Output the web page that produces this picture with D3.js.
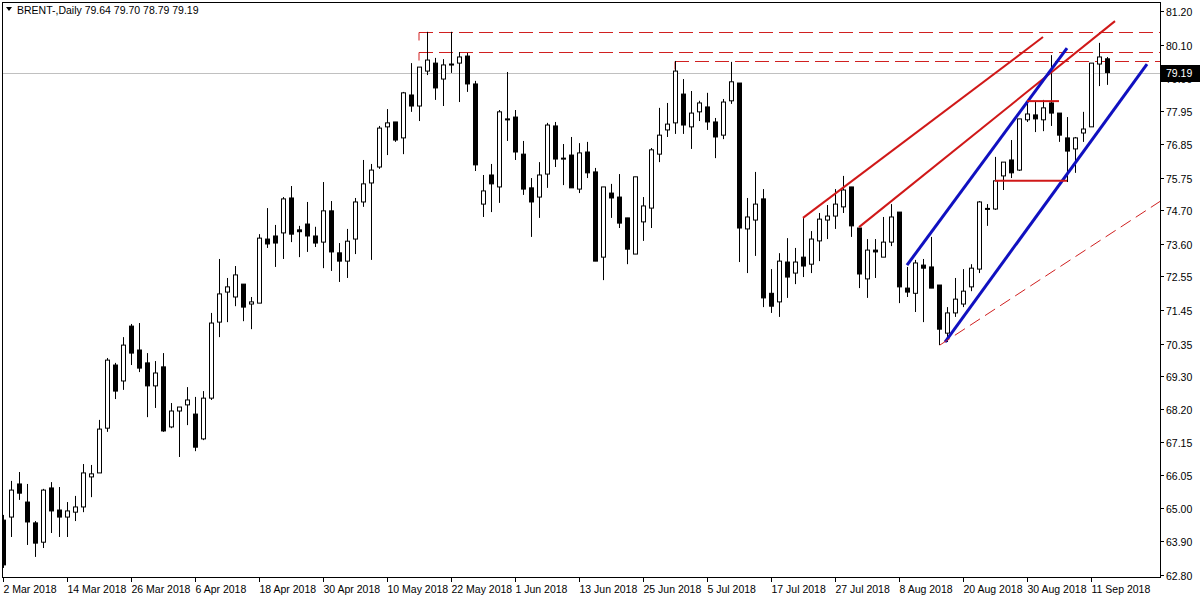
<!DOCTYPE html>
<html>
<head>
<meta charset="utf-8">
<script src="https://cdn.jsdelivr.net/npm/d3@7"></script>
<style>
  body { margin: 0; background: #fff; }
  text { font-family: "Liberation Sans", Arial, sans-serif; font-size: 10.5px; fill: #000; }
</style>
</head>
<body>
<div id="chart"></div>
<script>
// Daily BRENT candles, 2 Mar 2018 .. 13 Sep 2018
var opens = [64.59,64.69,65.77,65.18,64.50,63.87,65.64,64.92,64.69,64.85,65.02,66.00,66.13,67.59,69.65,69.13,70.92,70.14,69.72,68.97,
  69.59,67.63,68.15,68.35,68.05,67.24,68.57,71.05,72.03,71.87,72.29,71.64,71.67,73.76,73.86,73.96,75.10,74.06,74.25,73.86,
  73.66,74.68,73.31,73.04,73.76,74.97,75.59,76.11,77.42,77.58,77.06,78.46,78.10,79.24,79.50,78.98,79.47,79.50,79.73,78.82,
  74.90,75.85,75.46,77.68,77.74,76.53,75.43,75.13,75.88,77.45,76.37,76.50,75.39,76.60,75.95,73.17,75.26,75.13,74.45,73.27,
  74.32,74.77,76.53,77.32,77.55,78.49,77.42,77.91,78.07,77.58,77.15,78.27,78.85,74.09,74.38,75.07,71.99,71.71,73.01,72.65,
  73.17,72.94,73.70,74.38,74.51,74.81,75.46,74.12,72.46,73.40,73.17,73.66,74.64,72.16,71.99,72.91,72.85,72.26,70.69,71.35,
  71.64,72.20,72.78,74.76,74.74,75.82,76.34,76.01,77.65,77.81,77.65,78.20,77.87,77.06,76.70,77.22,77.42,79.47,79.64];
var highs = [64.76,65.87,66.16,65.77,64.56,65.61,65.83,65.67,65.18,65.38,66.42,66.39,67.86,69.88,69.72,70.56,70.99,71.02,70.04,69.78,
  70.04,68.41,68.28,68.93,68.61,68.80,71.35,73.11,72.49,72.88,72.29,71.87,73.92,74.77,74.22,75.13,75.49,74.19,74.97,74.16,
  75.62,75.00,73.63,74.09,75.10,76.34,76.21,77.45,78.00,77.58,78.56,79.50,79.37,80.52,79.67,79.63,80.52,79.86,79.83,78.92,
  75.85,76.21,77.97,79.21,77.97,76.96,75.75,76.27,77.55,77.58,76.86,77.09,76.89,76.93,76.08,75.46,75.56,75.88,74.45,75.79,
  75.13,76.73,78.04,78.20,79.57,78.98,78.59,78.27,78.53,77.71,78.33,79.54,78.85,75.10,75.95,75.39,72.78,73.30,73.79,73.47,
  74.45,74.02,74.61,74.87,75.39,75.82,75.46,74.12,73.76,73.76,74.48,74.90,74.64,72.85,73.08,73.11,73.83,72.26,71.54,72.49,
  72.78,72.94,75.00,74.90,76.44,76.27,76.99,77.68,78.20,78.23,78.30,79.76,77.87,77.74,77.09,77.91,79.50,80.16,79.70];
var lows = [63.03,64.04,65.25,63.78,63.39,63.68,64.17,64.04,64.04,64.56,64.85,65.34,66.13,67.47,68.54,68.84,69.65,69.42,67.95,68.25,
  67.47,67.59,66.65,67.69,66.84,67.20,68.51,70.56,71.05,71.57,71.08,70.82,71.67,73.47,72.85,73.11,73.66,73.17,73.34,73.50,
  72.81,72.72,72.36,72.49,73.27,74.81,73.08,76.05,76.50,76.93,76.53,77.91,77.61,79.11,78.30,78.10,79.18,78.23,78.56,75.98,
  74.48,74.64,74.94,76.96,76.34,75.20,73.83,74.45,75.43,76.11,75.52,75.43,75.26,75.75,73.04,72.42,74.45,74.12,72.94,73.27,
  73.70,74.12,76.27,77.09,77.19,77.19,76.70,77.61,77.32,76.40,77.02,78.17,73.01,72.65,73.21,71.54,71.35,71.22,71.84,72.29,
  72.52,72.65,73.04,73.76,74.09,74.61,73.83,72.16,71.84,72.49,73.17,73.53,71.67,71.87,71.38,71.05,72.16,70.30,70.40,71.22,
  71.54,72.06,72.65,74.19,74.71,75.36,75.75,75.98,77.58,77.25,77.28,77.45,76.93,75.62,75.92,76.93,77.42,78.75,78.79];
var closes = [63.13,65.57,65.47,64.53,63.84,65.57,64.89,64.69,64.89,65.02,66.13,66.10,67.56,69.81,68.80,70.30,70.04,69.55,68.97,69.39,
  67.50,68.15,68.28,68.51,66.97,68.57,71.02,71.97,72.20,72.59,71.54,71.71,73.79,73.60,73.63,75.07,73.92,74.00,73.86,73.63,
  74.68,73.34,73.04,73.69,74.97,75.56,76.01,77.38,77.55,76.99,78.53,78.10,79.37,79.60,78.69,79.44,79.44,79.70,78.82,76.18,
  75.33,75.56,77.91,77.67,76.60,75.39,74.97,75.85,77.48,76.37,76.40,75.43,76.57,75.92,73.04,75.46,75.10,74.28,73.43,75.79,
  74.84,76.67,77.15,77.51,79.24,77.48,77.87,78.20,77.58,77.09,78.23,78.89,74.12,74.48,74.90,71.84,71.57,73.04,72.52,73.01,
  72.88,73.76,74.41,74.51,74.90,75.36,74.19,72.62,73.40,73.34,73.66,74.48,72.20,72.03,72.98,72.81,72.16,70.82,71.35,71.80,
  72.06,72.81,74.97,74.74,75.66,76.27,75.92,77.68,77.84,77.68,78.04,77.87,77.15,76.63,77.06,77.35,79.50,79.70,79.19];

var lastPrice = 79.19;
var priceTicks = [81.20,80.10,79.00,77.95,76.85,75.75,74.70,73.60,72.55,71.45,70.35,69.30,68.20,67.15,66.05,65.00,63.90,62.80];
var dateLabels = ["2 Mar 2018","14 Mar 2018","26 Mar 2018","6 Apr 2018","18 Apr 2018","30 Apr 2018","10 May 2018","22 May 2018",
  "1 Jun 2018","13 Jun 2018","25 Jun 2018","5 Jul 2018","17 Jul 2018","27 Jul 2018","8 Aug 2018","20 Aug 2018","30 Aug 2018","11 Sep 2018"];
var dateBars = [0,8,16,24,32,40,48,56,64,72,80,88,96,104,112,120,128,136];

// Drawn studies: [bar1, price1, bar2, price2]
var dashedLevels = [[52, 80.50], [52, 79.86], [84, 79.57]];
var redTrends = [[100, 74.45, 130, 80.35], [107, 74.15, 139, 80.87]];
var blueTrends = [[113, 72.91, 133, 79.99], [117.75, 70.40, 143, 79.47]];
var redFlats = [[124, 75.66, 133, 75.66], [128, 78.26, 132, 78.26]];
var thinDashed = [[117.1, 70.30, 147.75, 75.52]];

var svgWidth = 1200, svgHeight = 600;
var pLeft = 2, pRight = 1160, pTop = 2, pBottom = 577;

var svg = d3.select("#chart").append("svg")
  .attr("width", svgWidth)
  .attr("height", svgHeight);

var x = d3.scaleLinear().domain([0, 144.5]).range([3, 1159]);
var y = d3.scaleLinear().domain([62.80, 81.20]).range([575, 11]);

var candles = opens.map(function(o, i) {
  return { i: i, o: o, h: highs[i], l: lows[i], c: closes[i] };
});

svg.append("defs").append("clipPath").attr("id", "clip")
  .append("rect").attr("x", pLeft).attr("y", pTop).attr("width", pRight - pLeft).attr("height", pBottom - pTop);
var plot = svg.append("g").attr("clip-path", "url(#clip)");

// current price line
plot.append("line")
  .attr("x1", pLeft).attr("x2", pRight)
  .attr("y1", Math.round(y(lastPrice)) + 0.5).attr("y2", Math.round(y(lastPrice)) + 0.5)
  .attr("stroke", "#c0c0c0");

// dashed levels
dashedLevels.forEach(function(d) {
  var yy = Math.round(y(d[1])) + 0.5;
  plot.append("line")
    .attr("x1", x(d[0])).attr("x2", 1185).attr("y1", yy).attr("y2", yy)
    .attr("stroke", "#d02020").attr("stroke-dasharray", "14,6");
  plot.append("line")
    .attr("x1", x(d[0])).attr("x2", x(d[0])).attr("y1", yy).attr("y2", yy + 8)
    .attr("stroke", "#d02020");
});

// wicks and bodies
var cg = plot.selectAll(".candle").data(candles).enter().append("g").attr("class", "candle");
cg.append("line")
  .attr("x1", d => Math.round(x(d.i)) + 0.5).attr("x2", d => Math.round(x(d.i)) + 0.5)
  .attr("y1", d => y(d.h)).attr("y2", d => y(d.l))
  .attr("stroke", "#000");
cg.append("rect")
  .attr("x", d => Math.round(x(d.i)) - 2 + 0.5)
  .attr("y", d => y(Math.max(d.o, d.c)))
  .attr("width", 4)
  .attr("height", d => Math.max(1, y(Math.min(d.o, d.c)) - y(Math.max(d.o, d.c))))
  .attr("fill", d => d.c >= d.o ? "#fff" : "#000")
  .attr("stroke", "#000");

// studies
function seg(list, color, width, dash) {
  list.forEach(function(d) {
    plot.append("line")
      .attr("x1", x(d[0])).attr("y1", y(d[1]))
      .attr("x2", x(d[2])).attr("y2", y(d[3]))
      .attr("stroke", color).attr("stroke-width", width)
      .attr("stroke-dasharray", dash || null);
  });
}
seg(redTrends, "#d01818", 2);
seg(blueTrends, "#1010c0", 3);
seg(redFlats, "#d01818", 2);
seg(thinDashed, "#d02020", 1, "12,6");

// frame
svg.append("rect")
  .attr("x", pLeft + 0.5).attr("y", pTop + 0.5)
  .attr("width", pRight - pLeft).attr("height", pBottom - pTop)
  .attr("fill", "none").attr("stroke", "#000");

// price axis (79.00 sits under the last-price box, as in the terminal)
var ya = svg.append("g");
priceTicks.forEach(function(p) {
  var yy = Math.round(y(p)) + 0.5;
  ya.append("line").attr("x1", pRight).attr("x2", pRight + 4).attr("y1", yy).attr("y2", yy).attr("stroke", "#000");
  ya.append("text").attr("x", pRight + 6).attr("y", yy + 4).text(p.toFixed(2));
});
var ly = Math.round(y(lastPrice));
ya.append("rect").attr("x", pRight + 1).attr("y", ly - 8).attr("width", 39).attr("height", 17).attr("fill", "#000");
ya.append("text").attr("x", pRight + 6).attr("y", ly + 4).style("fill", "#fff").text(lastPrice.toFixed(2));

// date axis
var xa = svg.append("g");
dateBars.forEach(function(b, k) {
  var xx = Math.round(x(b)) + 0.5;
  xa.append("line").attr("x1", xx).attr("x2", xx).attr("y1", pBottom).attr("y2", pBottom + 5).attr("stroke", "#000");
  xa.append("text").attr("x", xx).attr("y", pBottom + 16).text(dateLabels[k]);
});

// header
svg.append("path").attr("d", "M6,7 L12,7 L9,11 Z").attr("fill", "#000");
svg.append("text").attr("x", 17).attr("y", 14)
  .text("BRENT-,Daily  79.64 79.70 78.79 79.19");
</script>
</body>
</html>
